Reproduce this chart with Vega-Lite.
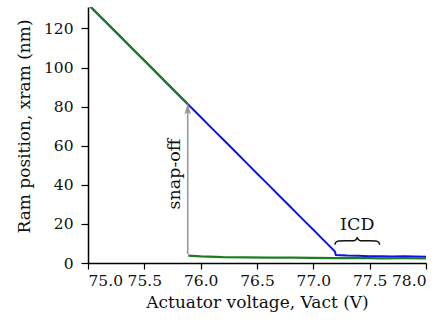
{
  "$schema": "https://vega.github.io/schema/vega-lite/v6.json",
  "width": 338,
  "height": 256,
  "autosize": {"type": "none"},
  "padding": {"left": 88, "top": 7, "right": 18, "bottom": 63},
  "config": {
    "view": {"stroke": null},
    "font": "DejaVu Serif",
    "axis": {
      "grid": false,
      "domainColor": "#000",
      "domainWidth": 1.5,
      "tickColor": "#000",
      "tickWidth": 1.2,
      "labelColor": "#111",
      "titleColor": "#111",
      "labelFont": "DejaVu Serif",
      "titleFont": "DejaVu Serif",
      "labelFontSize": 15.5,
      "titleFontSize": 17,
      "titleFontWeight": "normal"
    }
  },
  "datasets": {
    "blue": [
      {"v": 75.0, "x": 132.4}, {"v": 75.1, "x": 126.6}, {"v": 75.2, "x": 120.9},
      {"v": 75.3, "x": 115.1}, {"v": 75.4, "x": 109.3}, {"v": 75.5, "x": 103.6},
      {"v": 75.6, "x": 97.8}, {"v": 75.7, "x": 92.0}, {"v": 75.8, "x": 86.2},
      {"v": 75.9, "x": 80.5}, {"v": 76.0, "x": 74.7}, {"v": 76.1, "x": 68.9},
      {"v": 76.2, "x": 63.2}, {"v": 76.3, "x": 57.4}, {"v": 76.4, "x": 51.6},
      {"v": 76.5, "x": 45.8}, {"v": 76.6, "x": 40.1}, {"v": 76.7, "x": 34.3},
      {"v": 76.8, "x": 28.5}, {"v": 76.9, "x": 22.7}, {"v": 77.0, "x": 17.0},
      {"v": 77.1, "x": 11.2}, {"v": 77.19, "x": 6.0}, {"v": 77.2, "x": 4.1},
      {"v": 77.3, "x": 3.8}, {"v": 77.4, "x": 3.7}, {"v": 77.5, "x": 3.5},
      {"v": 77.6, "x": 3.4}, {"v": 77.7, "x": 3.3}, {"v": 77.8, "x": 3.4},
      {"v": 77.9, "x": 3.3}, {"v": 78.0, "x": 3.2}
    ],
    "green": [
      {"seg": "a", "v": 75.0, "x": 132.4}, {"seg": "a", "v": 75.1, "x": 126.6},
      {"seg": "a", "v": 75.2, "x": 120.9}, {"seg": "a", "v": 75.3, "x": 115.1},
      {"seg": "a", "v": 75.4, "x": 109.3}, {"seg": "a", "v": 75.5, "x": 103.6},
      {"seg": "a", "v": 75.6, "x": 97.8}, {"seg": "a", "v": 75.7, "x": 92.0},
      {"seg": "a", "v": 75.8, "x": 86.2}, {"seg": "a", "v": 75.885, "x": 81.4},
      {"seg": "b", "v": 75.89, "x": 3.8}, {"seg": "b", "v": 76.0, "x": 3.4},
      {"seg": "b", "v": 76.2, "x": 3.0}, {"seg": "b", "v": 76.4, "x": 2.9},
      {"seg": "b", "v": 76.6, "x": 2.7}, {"seg": "b", "v": 76.8, "x": 2.8},
      {"seg": "b", "v": 77.0, "x": 2.6}, {"seg": "b", "v": 77.2, "x": 2.5},
      {"seg": "b", "v": 77.4, "x": 2.6}, {"seg": "b", "v": 77.6, "x": 2.4},
      {"seg": "b", "v": 77.8, "x": 2.5}, {"seg": "b", "v": 78.0, "x": 2.4}
    ],
    "arrow": [{"v": 75.885, "x": 4.5, "x2": 79.5}],
    "head": [{"v": 75.885, "x": 78.9}],
    "brace": [
      {"v": 77.19, "x": 9.4}, {"v": 77.2, "x": 10.6}, {"v": 77.225, "x": 11.3},
      {"v": 77.36, "x": 11.4}, {"v": 77.38, "x": 12.0}, {"v": 77.39, "x": 12.9},
      {"v": 77.40, "x": 12.0}, {"v": 77.42, "x": 11.4}, {"v": 77.555, "x": 11.3},
      {"v": 77.58, "x": 10.6}, {"v": 77.59, "x": 9.4}
    ],
    "labels": [
      {"v": 75.77, "x": 45.5, "label": "snap-off", "angle": 270},
      {"v": 77.39, "x": 19.6, "label": "ICD", "angle": 0}
    ]
  },
  "encoding": {
    "x": {
      "field": "v",
      "type": "quantitative",
      "scale": {"domain": [75, 78], "nice": false, "zero": false},
      "axis": {
        "title": "Actuator voltage, Vact (V)",
        "values": [75, 75.5, 76, 76.5, 77, 77.5, 78],
        "format": ".1f",
        "tickSize": 6,
        "labelPadding": 4,
        "titlePadding": 6
      }
    },
    "y": {
      "field": "x",
      "type": "quantitative",
      "scale": {"domain": [0, 131], "nice": false},
      "axis": {
        "title": "Ram position, xram (nm)",
        "values": [0, 20, 40, 60, 80, 100, 120],
        "tickSize": 7,
        "labelPadding": 8,
        "titlePadding": 10,
        "titleY": 119
      }
    }
  },
  "layer": [
    {
      "data": {"name": "blue"},
      "mark": {"type": "line", "color": "#1010f0", "strokeWidth": 2, "clip": true}
    },
    {
      "data": {"name": "green"},
      "mark": {"type": "line", "color": "#1d7d1d", "strokeWidth": 2.2, "clip": true},
      "encoding": {"detail": {"field": "seg"}}
    },
    {
      "data": {"name": "arrow"},
      "mark": {"type": "rule", "color": "#999999", "strokeWidth": 1.6},
      "encoding": {"y2": {"field": "x2"}}
    },
    {
      "data": {"name": "head"},
      "mark": {
        "type": "point",
        "shape": "M0,-1L0.55,1L0,0.55L-0.55,1Z",
        "size": 144,
        "filled": true,
        "color": "#999999",
        "opacity": 1
      }
    },
    {
      "data": {"name": "brace"},
      "mark": {"type": "line", "color": "#111111", "strokeWidth": 1.5, "interpolate": "monotone"}
    },
    {
      "data": {"name": "labels"},
      "mark": {"type": "text", "font": "DejaVu Serif", "fontSize": 17.5, "color": "#111", "align": "center", "baseline": "middle"},
      "encoding": {
        "text": {"field": "label"},
        "angle": {"field": "angle", "type": "quantitative", "scale": null}
      }
    }
  ]
}
